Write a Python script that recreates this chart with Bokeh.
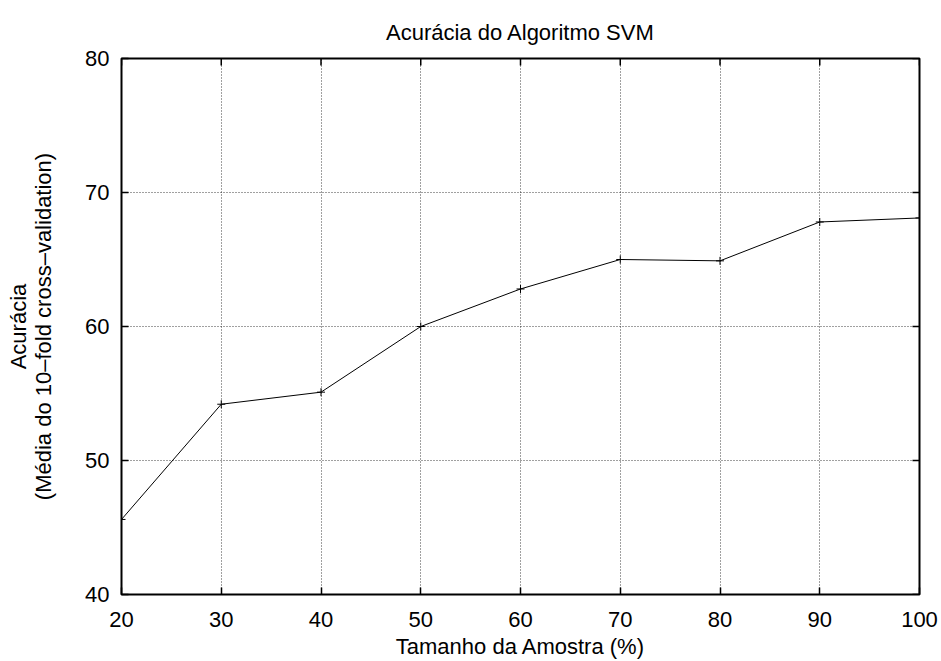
import math
from bokeh.plotting import figure
from bokeh.models import Range1d, FixedTicker
from bokeh.embed import file_html
from bokeh.resources import INLINE

sample_pct = [20, 30, 40, 50, 60, 70, 80, 90, 100]
accuracy = [45.6, 54.2, 55.1, 60.0, 62.8, 65.0, 64.9, 67.8, 68.1]
x_ticks = [20, 30, 40, 50, 60, 70, 80, 90, 100]
y_ticks = [40, 50, 60, 70, 80]

FONT = "Liberation Sans"
FS = "22px"

p = figure(width=941, height=661, output_backend="svg", toolbar_location=None,
           x_range=Range1d(x_ticks[0], x_ticks[-1]), y_range=Range1d(y_ticks[0], y_ticks[-1]),
           min_border_left=121, min_border_right=22, min_border_top=58, min_border_bottom=67)

p.title.text = "Acurácia do Algoritmo SVM"
p.title.align = "center"
p.title.text_font = FONT
p.title.text_font_size = FS
p.title.text_font_style = "normal"
p.title.text_color = "black"
p.title.standoff = 28

p.line(sample_pct, accuracy, line_color="black", line_width=1)
p.scatter(sample_pct, accuracy, marker="cross", size=8, line_color="black", line_width=1)

# mirrored inward ticks on top and right edges (clipped to the frame)
p.scatter(x_ticks, [y_ticks[-1]] * len(x_ticks), marker="dash", angle=math.pi / 2,
          size=14, line_color="black", line_width=1.5)
p.scatter([x_ticks[-1]] * len(y_ticks), y_ticks, marker="dash",
          size=14, line_color="black", line_width=1.5)

p.outline_line_color = "black"
p.outline_line_width = 2

for ax in (p.xaxis[0], p.yaxis[0]):
    ax.major_tick_in = 7
    ax.major_tick_out = 0
    ax.minor_tick_line_color = None
    ax.axis_line_color = None
    ax.major_tick_line_color = "black"
    ax.major_tick_line_width = 1.5
    ax.major_label_text_font = FONT
    ax.major_label_text_font_size = FS
    ax.major_label_text_color = "black"
    ax.axis_label_text_font = FONT
    ax.axis_label_text_font_size = FS
    ax.axis_label_text_font_style = "normal"
    ax.axis_label_text_color = "black"
    ax.axis_label_text_line_height = 1.0

p.xaxis[0].ticker = FixedTicker(ticks=x_ticks)
p.yaxis[0].ticker = FixedTicker(ticks=y_ticks)
p.xaxis[0].axis_label = "Tamanho da Amostra (%)"
p.yaxis[0].axis_label = "Acurácia\n(Média do 10–fold cross–validation)"
p.xaxis[0].major_label_standoff = 17
p.yaxis[0].major_label_standoff = 12
p.xaxis[0].axis_label_standoff = 4
p.yaxis[0].axis_label_standoff = 26

p.xgrid.ticker = FixedTicker(ticks=x_ticks)
p.ygrid.ticker = FixedTicker(ticks=y_ticks)
for g in (p.xgrid[0], p.ygrid[0]):
    g.grid_line_color = "black"
    g.grid_line_dash = "1 2"
    g.grid_line_width = 1
    g.grid_line_alpha = 0.75

open("out.html", "w").write(file_html(p, INLINE))
